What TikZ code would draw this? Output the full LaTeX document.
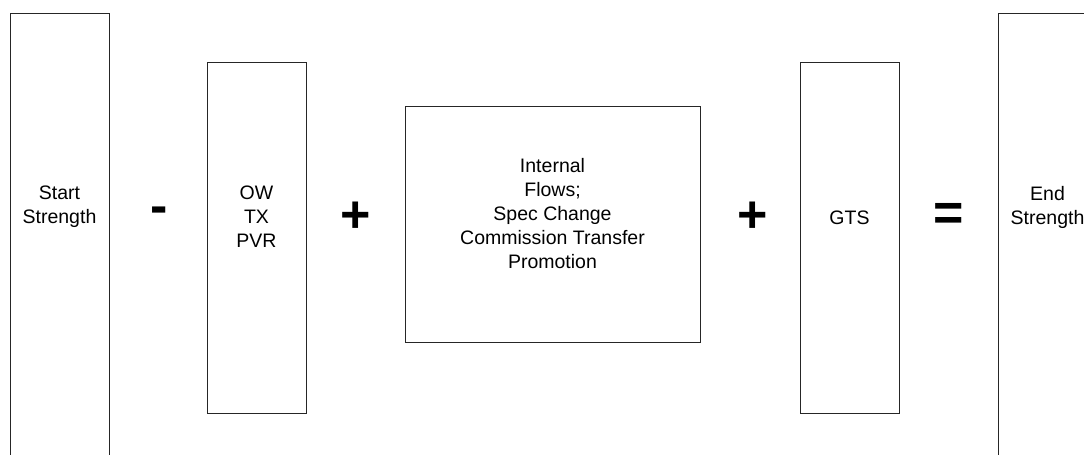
\documentclass[tikz,border=0pt]{standalone}
\usepackage{fontspec}
\setmainfont{Liberation Sans}
\usepackage{tikz}
\usetikzlibrary{positioning}

\tikzset{
  flowbox/.style={draw=black!85, line width=1.2pt, rectangle, inner sep=0pt, anchor=north west},
  flowtext/.style={align=center, inner sep=0pt, font=\fontsize{19.5}{24}\selectfont},
  opsign/.style={inner sep=0pt, font=\fontsize{52}{52}\selectfont\bfseries},
}

\begin{document}
\begin{tikzpicture}[x=1pt, y=-1pt]
\useasboundingbox (0,0) rectangle (1084,455);
%%%%% Boxes %%%%%
\node[flowbox, minimum width=99pt, minimum height=449pt] (start) at (10,13) {};
\node[flowbox, minimum width=99pt, minimum height=351pt] (ow) at (207,62) {};
\node[flowbox, minimum width=295pt, minimum height=236pt] (internal) at (405,106) {};
\node[flowbox, minimum width=99pt, minimum height=351pt] (gts) at (800,62) {};
\node[flowbox, minimum width=99pt, minimum height=449pt] (end) at (998,13) {};
%%%%% Labels %%%%%
\node[flowtext] (starttext) at (59.5,207) {Start\\Strength};
\node[flowtext] (owtext) at (256.5,217) {OW\\TX\\PVR};
\node[flowtext] (internaltext) at (552.5,214) {Internal\\Flows;\\Spec Change\\Commission Transfer\\Promotion};
\node[flowtext] (gtstext) at (849.5,218) {GTS};
\node[flowtext] (endtext) at (1047.5,207) {End\\Strength};
%%%%% Signs %%%%%
\node[opsign] (minus) at (159.5,215) {-};
\node[opsign] (plusa) at (356,217) {+};
\node[opsign] (plusb) at (753,217) {+};
\node[opsign] (equals) at (949,217) {=};
\end{tikzpicture}
\end{document}
